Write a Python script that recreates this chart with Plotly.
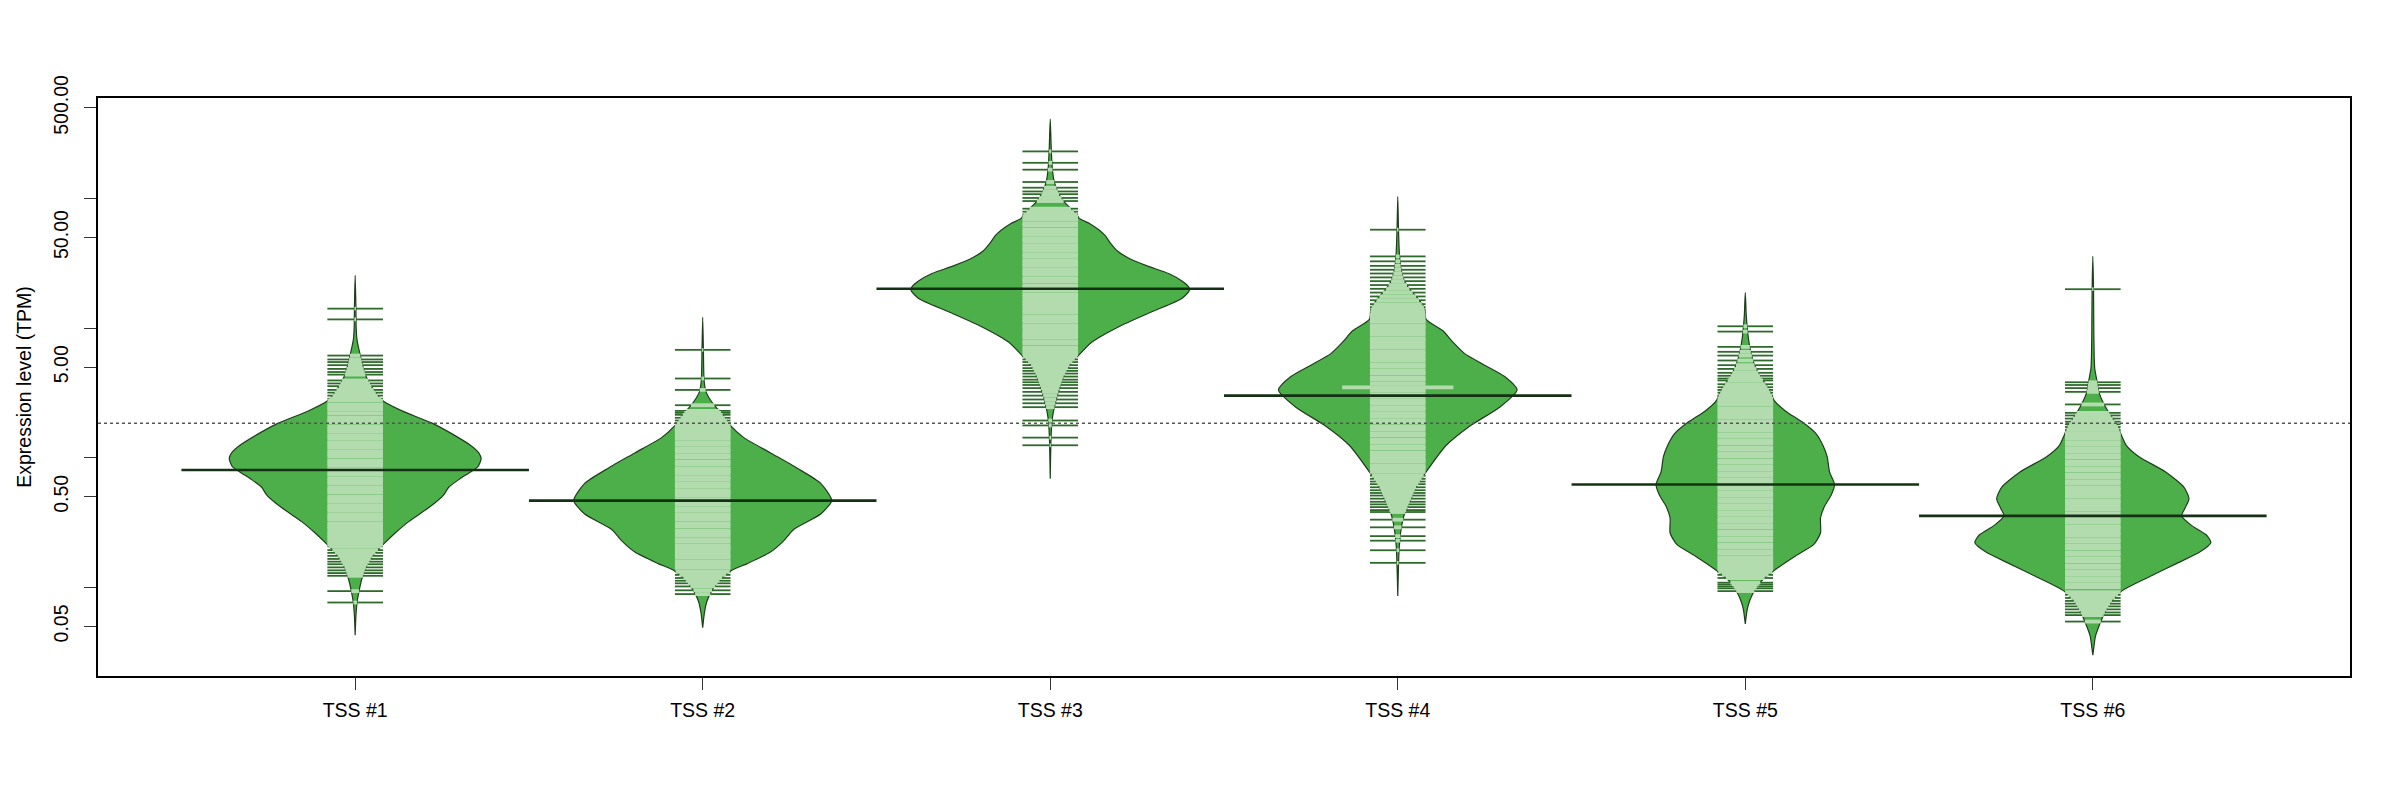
import numpy as np
import plotly.graph_objects as go
from collections import Counter

# ---------------- data (log10 TPM) ----------------
groups = ["TSS #1", "TSS #2", "TSS #3", "TSS #4", "TSS #5", "TSS #6"]

y_tick_tpm = [0.05, 0.1, 0.5, 1, 5, 10, 50, 100, 500]
y_tick_labels = ["0.05", "", "0.50", "", "5.00", "", "50.00", "", "500.00"]

overall_average = 0.266
bean_average = [-0.095, -0.331, 1.303, 0.479, -0.207, -0.449]

# bean density profiles: levels (log10 TPM) and relative density (1 = widest bean)
levels_1 = [1.406, 1.185, 1.009, 0.920, 0.861, 0.803, 0.714, 0.626, 0.537, 0.479, 0.435, 0.361, 0.267, 0.184,
            0.096, 0.037, -0.007, -0.066, -0.110, -0.169, -0.228, -0.287, -0.346, -0.404, -0.493, -0.581,
            -0.669, -0.758, -0.846, -0.934, -1.023, -1.111, -1.229, -1.370]
density_1 = [0, .005, .007, .012, .022, .034, .053, .079, .125, .163, .204, .337, .553, .697, .829, .889, .906,
             .885, .829, .745, .673, .637, .577, .505, .385, .288, .202, .125, .077, .048, .029, .014, .005, 0]

levels_2 = [1.082, 0.832, 0.596, 0.508, 0.420, 0.331, 0.243, 0.155, 0.037, -0.081, -0.198, -0.331, -0.434,
            -0.552, -0.640, -0.728, -0.817, -0.870, -0.934, -1.023, -1.111, -1.199, -1.311]
density_2 = [0, .005, .010, .024, .072, .144, .204, .296, .488, .680, .849, .928, .849, .656, .584, .488, .320,
             .207, .132, .067, .029, .012, 0]

levels_3 = [2.613, 2.392, 2.245, 2.127, 2.039, 1.980, 1.921, 1.877, 1.848, 1.803, 1.759, 1.715, 1.656, 1.597,
            1.539, 1.480, 1.421, 1.362, 1.318, 1.288, 1.229, 1.126, 1.009, 0.891, 0.788, 0.714, 0.626, 0.538,
            0.449, 0.361, 0.273, 0.125, -0.163]
density_3 = [0, .007, .014, .029, .060, .096, .149, .192, .207, .288, .349, .394, .433, .481, .565, .697, .851,
             .950, .995, 1.0, .947, .731, .490, .298, .202, .139, .096, .067, .043, .024, .012, .005, 0]

levels_4 = [2.015, 1.774, 1.568, 1.450, 1.362, 1.303, 1.229, 1.156, 1.067, 0.979, 0.891, 0.803, 0.714, 0.626,
            0.523, 0.390, 0.243, 0.096, -0.110, -0.228, -0.346, -0.434, -0.552, -0.699, -0.846, -1.067]
density_4 = [0, .005, .012, .024, .048, .084, .144, .192, .204, .325, .397, .481, .625, .769, .858, .733, .517,
             .349, .204, .132, .084, .048, .024, .010, .005, 0]

levels_5 = [1.274, 1.097, 0.950, 0.832, 0.714, 0.626, 0.552, 0.479, 0.443, 0.361, 0.273, 0.184, 0.096, 0.008,
            -0.110, -0.207, -0.287, -0.375, -0.463, -0.581, -0.669, -0.758, -0.870, -0.934, -0.993, -1.052,
            -1.111, -1.170, -1.282]
density_5 = [0, .007, .019, .036, .067, .108, .156, .192, .207, .288, .413, .510, .558, .589, .606, .642, .618,
             .570, .541, .541, .493, .361, .207, .132, .084, .053, .029, .014, 0]

levels_6 = [1.553, 1.303, 1.009, 0.773, 0.685, 0.596, 0.508, 0.420, 0.331, 0.243, 0.170, 0.096, 0.008, -0.110,
            -0.228, -0.316, -0.390, -0.449, -0.522, -0.596, -0.655, -0.728, -0.817, -0.905, -0.993, -1.029,
            -1.111, -1.199, -1.288, -1.376, -1.464, -1.523]
density_6 = [0, .005, .007, .010, .014, .029, .043, .077, .125, .180, .207, .240, .332, .524, .656, .692, .663,
             .639, .709, .817, .849, .769, .601, .433, .264, .207, .132, .084, .048, .019, .007, 0]

# individual observations (log10 TPM), one beanline each
obs_1 = [1.150, 1.067, 0.788, 0.758, 0.738, 0.714, 0.685, 0.661, 0.641, 0.596, 0.573, 0.552, 0.523, 0.502, 0.479,
         0.455, 0.44, 0.41, 0.39, 0.37, 0.34, 0.31, 0.29, 0.27, 0.24, 0.22, 0.20, 0.17, 0.15, 0.12, 0.10, 0.08,
         0.05, 0.03, 0.01, -0.02, -0.04, -0.06, -0.09, -0.11, -0.13, -0.16, -0.18, -0.20, -0.23, -0.25, -0.27,
         -0.30, -0.32, -0.34, -0.37, -0.39, -0.41, -0.44, -0.46, -0.48, -0.51, -0.53, -0.55, -0.58, -0.60, -0.62,
         -0.65, -0.67, -0.684, -0.713, -0.734, -0.757, -0.781, -0.802, -0.822, -0.846, -0.869, -0.890, -0.911,
         -1.029, -1.117]
obs_2 = [0.832, 0.611, 0.523, 0.405, 0.361, 0.346, 0.331, 0.308, 0.287, 0.267, 0.249, 0.228, 0.21, 0.19, 0.17,
         0.15, 0.12, 0.10, 0.07, 0.05, 0.02, 0.00, -0.03, -0.05, -0.08, -0.10, -0.12, -0.15, -0.17, -0.20, -0.22,
         -0.25, -0.27, -0.29, -0.32, -0.34, -0.36, -0.39, -0.41, -0.44, -0.46, -0.48, -0.51, -0.53, -0.56, -0.58,
         -0.60, -0.63, -0.65, -0.68, -0.70, -0.72, -0.75, -0.77, -0.80, -0.82, -0.85, -0.881, -0.904, -0.928,
         -0.949, -0.969, -0.993, -1.023, -1.052]
obs_3 = [2.363, 2.275, 2.222, 2.127, 2.083, 2.054, 2.033, 2.004, 1.980, 1.921, 1.898, 1.877, 1.862, 1.84, 1.81,
         1.79, 1.76, 1.74, 1.72, 1.69, 1.67, 1.64, 1.62, 1.60, 1.57, 1.55, 1.52, 1.50, 1.48, 1.45, 1.43, 1.41,
         1.38, 1.36, 1.33, 1.31, 1.29, 1.26, 1.24, 1.21, 1.19, 1.17, 1.14, 1.12, 1.09, 1.07, 1.05, 1.02, 1.00,
         0.97, 0.95, 0.93, 0.90, 0.88, 0.85, 0.83, 0.80, 0.78, 0.758, 0.738, 0.714, 0.691, 0.670, 0.649, 0.626,
         0.602, 0.582, 0.561, 0.537, 0.508, 0.479, 0.449, 0.420, 0.390, 0.287, 0.249, 0.155, 0.096]
obs_4 = [1.759, 1.553, 1.515, 1.480, 1.450, 1.421, 1.391, 1.362, 1.332, 1.303, 1.274, 1.244, 1.215, 1.185, 1.162,
         1.141, 1.121, 1.097, 1.07, 1.05, 1.02, 1.00, 0.97, 0.95, 0.92, 0.90, 0.87, 0.85, 0.82, 0.80, 0.77, 0.75,
         0.72, 0.70, 0.67, 0.65, 0.62, 0.60, 0.57, 0.543, 0.543, 0.52, 0.49, 0.47, 0.44, 0.42, 0.39, 0.37, 0.34,
         0.32, 0.29, 0.27, 0.24, 0.22, 0.19, 0.17, 0.14, 0.12, 0.09, 0.07, 0.04, 0.02, -0.01, -0.03, -0.06, -0.08,
         -0.11, -0.139, -0.163, -0.184, -0.204, -0.228, -0.251, -0.272, -0.292, -0.316, -0.340, -0.360, -0.381,
         -0.404, -0.419, -0.478, -0.537, -0.605, -0.640, -0.714, -0.811]
obs_5 = [1.014, 0.973, 0.855, 0.817, 0.788, 0.750, 0.714, 0.685, 0.655, 0.632, 0.611, 0.596, 0.567, 0.544, 0.523,
         0.502, 0.479, 0.455, 0.43, 0.41, 0.38, 0.36, 0.33, 0.31, 0.28, 0.26, 0.23, 0.21, 0.18, 0.16, 0.13, 0.11,
         0.08, 0.06, 0.03, 0.01, -0.02, -0.04, -0.07, -0.09, -0.12, -0.14, -0.17, -0.19, -0.22, -0.24, -0.27,
         -0.29, -0.32, -0.34, -0.37, -0.39, -0.42, -0.44, -0.47, -0.49, -0.52, -0.54, -0.57, -0.59, -0.62, -0.64,
         -0.67, -0.69, -0.72, -0.74, -0.77, -0.79, -0.82, -0.84, -0.86, -0.881, -0.904, -0.928, -0.964, -0.978,
         -0.993, -1.008, -1.029]
obs_6 = [1.300, 0.582, 0.561, 0.537, 0.508, 0.411, 0.346, 0.326, 0.302, 0.278, 0.258, 0.237, 0.214, 0.190, 0.170,
         0.15, 0.12, 0.10, 0.07, 0.05, 0.02, 0.00, -0.03, -0.05, -0.08, -0.10, -0.13, -0.15, -0.18, -0.20, -0.23,
         -0.25, -0.28, -0.30, -0.33, -0.35, -0.38, -0.40, -0.43, -0.45, -0.48, -0.50, -0.53, -0.55, -0.58, -0.60,
         -0.63, -0.65, -0.68, -0.70, -0.73, -0.75, -0.78, -0.80, -0.83, -0.85, -0.88, -0.90, -0.93, -0.95, -0.98,
         -1.00, -1.037, -1.058, -1.082, -1.105, -1.126, -1.147, -1.170, -1.194, -1.214, -1.264]

all_levels = [levels_1, levels_2, levels_3, levels_4, levels_5, levels_6]
all_density = [density_1, density_2, density_3, density_4, density_5, density_6]
all_obs = [obs_1, obs_2, obs_3, obs_4, obs_5, obs_6]

# ---------------- styling ----------------
BEAN_FILL = "#4DAF4A"
BEAN_EDGE = "#1F3D1D"
LINE_IN = "#B2DCAE"
LINE_OUT = "#2E6B2B"
AVG_COL = "#163016"
FONT = "Liberation Sans, Arial, Helvetica, sans-serif"
MAXW = 0.8      # full width of widest bean
LL = 0.16       # beanline length per observation

fig = go.Figure()

for i, g in enumerate(groups):
    c = i + 1
    lv = np.array(all_levels[i], dtype=float)
    hw = np.array(all_density[i], dtype=float) * MAXW / 2
    xs = np.concatenate([c + hw, (c - hw)[::-1]])
    ys = np.concatenate([lv, lv[::-1]])
    fig.add_trace(go.Scatter(
        x=xs, y=ys, mode="lines", fill="toself", fillcolor=BEAN_FILL,
        line=dict(color=BEAN_EDGE, width=1.2, shape="spline", smoothing=0.6),
        hoverinfo="skip", showlegend=False))

    counts = Counter(all_obs[i])
    lx, ly, dx, dy = [], [], [], []
    for v, k in counts.items():
        L = LL / 2 * k
        h = float(np.interp(v, lv[::-1], hw[::-1]))
        inner = min(L, h)
        lx += [c - inner, c + inner, None]
        ly += [v, v, None]
        if L > h:
            dx += [c - L, c - h, None, c + h, c + L, None]
            dy += [v, v, None, v, v, None]
    fig.add_trace(go.Scatter(x=dx, y=dy, mode="lines", line=dict(color=LINE_OUT, width=1.8),
                             hoverinfo="skip", showlegend=False))
    fig.add_trace(go.Scatter(x=lx, y=ly, mode="lines", line=dict(color=LINE_IN, width=3.8),
                             hoverinfo="skip", showlegend=False))

    fig.add_trace(go.Scatter(x=[c - 0.5, c + 0.5], y=[bean_average[i]] * 2, mode="lines",
                             line=dict(color=AVG_COL, width=2.6), hoverinfo="skip", showlegend=False))

fig.add_trace(go.Scatter(x=[0.26, 6.74], y=[overall_average] * 2, mode="lines",
                         line=dict(color="#555555", width=1.6, dash="dot"),
                         hoverinfo="skip", showlegend=False))

# the page body adds an 8px margin, so the figure is 2384x784 and offsets are shifted by 8px
fig.update_layout(
    width=2384, height=784,
    paper_bgcolor="white", plot_bgcolor="white",
    margin=dict(l=90, r=42, t=90, b=116, autoexpand=False),
    font=dict(family=FONT, size=19.5, color="black"),
    showlegend=False,
    xaxis=dict(range=[0.26, 6.74], tickmode="array", tickvals=list(range(1, 7)), ticktext=groups,
               ticks="outside", ticklen=12, tickwidth=1.2, tickcolor="#333333",
               showline=True, mirror=True, linecolor="black", linewidth=1.5,
               showgrid=False, zeroline=False, ticklabelstandoff=4, automargin=False,
               tickfont=dict(size=19.5, family=FONT)),
    yaxis=dict(range=[-1.684, 2.775], tickmode="array",
               tickvals=[float(np.log10(t)) for t in y_tick_tpm], ticktext=y_tick_labels,
               tickangle=-90, ticks="outside", ticklen=12, tickwidth=1.2, tickcolor="#333333",
               showline=True, mirror=True, linecolor="black", linewidth=1.5,
               showgrid=False, zeroline=False, ticklabelstandoff=8, automargin=False,
               tickfont=dict(size=19.5, family=FONT),
               title=dict(text="Expression level (TPM)", font=dict(size=19.5, family=FONT), standoff=14)),
)

fig.write_html("out.html")
